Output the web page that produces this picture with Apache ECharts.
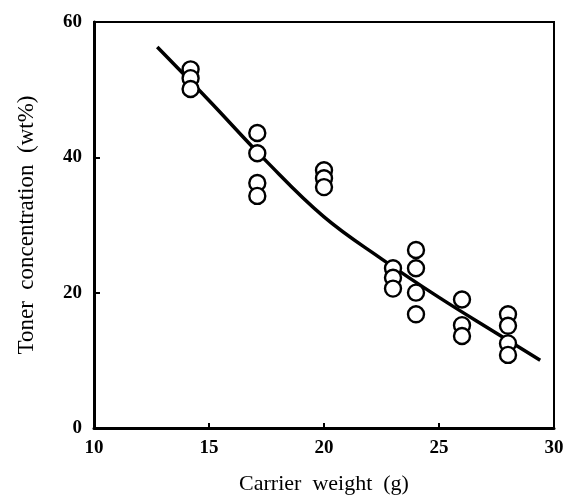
<!DOCTYPE html>
<html><head><meta charset="utf-8">
<script src="https://cdn.jsdelivr.net/npm/echarts@6/dist/echarts.min.js"></script>
<style>html,body{margin:0;padding:0;background:#fff}#c{width:567px;height:495px}</style>
</head><body><div id="c"></div>
<script>
// measured points: carrier weight (g) and toner concentration (wt%)
const pointX = [14.2,14.2,14.2, 17.1,17.1,17.1,17.1, 20,20,20, 23,23,23, 24,24,24,24, 26,26,26, 28,28,28,28];
const pointY = [53.0,51.7,50.1, 43.6,40.6,36.2,34.3, 38.1,36.9,35.6, 23.6,22.2,20.6, 26.3,23.6,20.0,16.8, 19.0,15.2,13.6, 16.8,15.1,12.5,10.8];
// fitted curve
const curveX = [12.75, 15, 17.5, 20, 22.5, 25, 27.5, 29.4];
const curveY = [56.3, 48.4, 39.4, 31.2, 25.0, 19.3, 14.0, 10.0];
const xTicks = [10, 15, 20, 25, 30];
const yTicks = [0, 20, 40, 60];

const chart = echarts.init(document.getElementById('c'));
const serif = '"Liberation Serif", "DejaVu Serif", serif';
chart.setOption({
  animation: false,
  backgroundColor: '#fff',
  grid: {left: 94, right: 13, top: 22, bottom: 67, show: true, borderColor: '#000', borderWidth: 2, outerBoundsMode: 'none', containLabel: false},
  xAxis: {
    type: 'value', min: xTicks[0], max: xTicks[xTicks.length-1], interval: 5,
    name: 'Carrier  weight  (g)', nameLocation: 'middle', nameGap: 45,
    nameTextStyle: {fontFamily: serif, fontSize: 22, color: '#000'},
    axisLine: {lineStyle: {color: '#000', width: 3}},
    axisTick: {inside: true, length: 5, lineStyle: {color: '#000', width: 2}},
    axisLabel: {fontFamily: serif, fontWeight: 'bold', fontSize: 19, color: '#000', margin: 11},
    splitLine: {show: false}
  },
  yAxis: {
    type: 'value', min: yTicks[0], max: yTicks[yTicks.length-1], interval: 20,
    name: 'Toner  concentration  (wt%)', nameLocation: 'middle', nameGap: 56,
    nameTextStyle: {fontFamily: serif, fontSize: 23, color: '#000'},
    axisLine: {lineStyle: {color: '#000', width: 3}},
    axisTick: {inside: true, length: 6, lineStyle: {color: '#000', width: 2}},
    axisLabel: {fontFamily: serif, fontWeight: 'bold', fontSize: 19, color: '#000', margin: 12},
    splitLine: {show: false}
  },
  series: [
    {type: 'line', data: curveX.map((x, i) => [x, curveY[i]]), smooth: 0.4, symbol: 'none',
     lineStyle: {color: '#000', width: 3.5}, z: 2},
    {type: 'scatter', data: pointX.map((x, i) => [x, pointY[i]]), symbol: 'circle', symbolSize: 16,
     itemStyle: {color: '#fff', borderColor: '#000', borderWidth: 2.4, opacity: 1}, z: 3}
  ]
});
</script></body></html>
